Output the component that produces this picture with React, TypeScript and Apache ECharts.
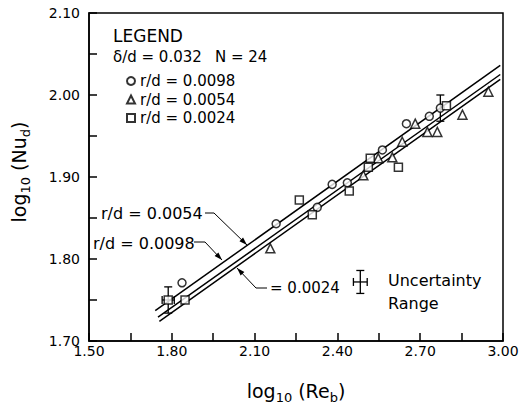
import React, { useEffect, useRef } from 'react';
import * as echarts from 'echarts';

// r/d = 0.0098 (circles)
const circleData: [number, number][] = [
  [1.837, 1.771], [2.178, 1.843], [2.327, 1.863], [2.381, 1.891], [2.436, 1.893],
  [2.563, 1.933], [2.650, 1.965], [2.733, 1.974], [2.773, 1.984],
];
// r/d = 0.0054 (triangles)
const triangleData: [number, number][] = [
  [2.157, 1.813], [2.494, 1.902], [2.548, 1.923], [2.599, 1.924], [2.635, 1.943],
  [2.682, 1.965], [2.726, 1.955], [2.762, 1.955], [2.853, 1.976], [2.947, 2.004],
];
// r/d = 0.0024 (squares)
const squareData: [number, number][] = [
  [1.787, 1.750], [1.848, 1.750], [2.262, 1.872], [2.309, 1.854], [2.443, 1.883],
  [2.512, 1.912], [2.519, 1.923], [2.621, 1.912], [2.795, 1.987],
];
// fitted lines (end points)
const fitTop: [number, number][] = [[1.740, 1.737], [2.990, 2.036]];
const fitMid: [number, number][] = [[1.750, 1.729], [2.990, 2.025]];
const fitLow: [number, number][] = [[1.755, 1.724], [2.990, 2.019]];
// uncertainty crosses: x, y, dx, dy
const errX = [1.787, 2.773, 2.483];
const errY = [1.750, 1.984, 1.772];
const errDx = [0.022, 0, 0.025];
const errDy = [0.016, 0.016, 0.014];

const seriesNames = ['r/d = 0.0098', 'r/d = 0.0054', 'r/d = 0.0024'];
const FONT = 'DejaVu Sans';

function arrowHead(p0: number[], p1: number[], len = 8, half = 2.6) {
  const dx = p1[0] - p0[0];
  const dy = p1[1] - p0[1];
  const d = Math.hypot(dx, dy);
  const ux = dx / d, uy = dy / d;
  const bx = p1[0] - ux * len, by = p1[1] - uy * len;
  return [[p1[0], p1[1]], [bx - uy * half, by + ux * half], [bx + uy * half, by - ux * half]];
}

function leader(points: number[][]) {
  const n = points.length;
  return [
    { type: 'polyline', shape: { points }, style: { stroke: '#000', lineWidth: 1, fill: null } },
    { type: 'polygon', shape: { points: arrowHead(points[n - 2], points[n - 1]) }, style: { fill: '#000' } },
  ];
}

export default function App() {
  const ref = useRef<HTMLDivElement>(null);
  useEffect(() => {
    const chart = echarts.init(ref.current!, null, { renderer: 'svg' });
    const symStyle = { color: '#fff', borderColor: '#000', borderWidth: 1.5 };
    const lineSeries = (data: [number, number][]) => ({
      type: 'line', data, symbol: 'none', lineStyle: { color: '#000', width: 1.5 }, silent: true, z: 1,
    });
    const textStyle = (text: string, size: number) => ({
      text, fill: '#000', font: `${size}px "${FONT}"`, verticalAlign: 'middle',
    });
    chart.setOption({
      animation: false,
      backgroundColor: '#fff',
      grid: { left: 89, right: 20, top: 13, bottom: 67, show: true, borderColor: '#000', borderWidth: 1.5 },
      legend: {
        orient: 'vertical', left: 126, top: 73.5, padding: 0, itemWidth: 8, itemHeight: 8,
        itemGap: 3.5, itemTextGap: 15, data: seriesNames,
        textStyle: { fontFamily: FONT, fontSize: 15, color: '#000', lineHeight: 15 },
      },
      xAxis: {
        type: 'value', min: 1.5, max: 3.0, interval: 0.15,
        axisLine: { lineStyle: { color: '#000', width: 1.5 } },
        axisTick: { inside: true, length: 8, lineStyle: { color: '#000', width: 1.5 } },
        splitLine: { show: false },
        axisLabel: {
          margin: 3, color: '#000', fontFamily: FONT, fontSize: 14,
          formatter: (v: number) => (Math.round(v * 100) % 30 === 0 ? v.toFixed(2) : ''),
        },
      },
      yAxis: {
        type: 'value', min: 1.7, max: 2.1, interval: 0.05,
        axisLine: { lineStyle: { color: '#000', width: 1.5 } },
        axisTick: { inside: true, length: 8, lineStyle: { color: '#000', width: 1.5 } },
        splitLine: { show: false },
        axisLabel: {
          margin: 9, color: '#000', fontFamily: FONT, fontSize: 14,
          formatter: (v: number) => (Math.round(v * 100) % 10 === 0 ? v.toFixed(2) : ''),
        },
      },
      series: [
        lineSeries(fitTop),
        lineSeries(fitMid),
        lineSeries(fitLow),
        {
          type: 'custom', z: 2, silent: true,
          data: errX.map((x, i) => [x, errY[i], errDx[i], errDy[i]]),
          renderItem: (_p: any, api: any) => {
            const x = api.value(0), y = api.value(1), dx = api.value(2), dy = api.value(3);
            const st = { stroke: '#000', lineWidth: 1.3 };
            const cap = 4;
            const ch: any[] = [];
            if (dy > 0) {
              const t = api.coord([x, y + dy]);
              const b = api.coord([x, y - dy]);
              ch.push({ type: 'line', shape: { x1: t[0], y1: t[1], x2: b[0], y2: b[1] }, style: st });
              ch.push({ type: 'line', shape: { x1: t[0] - cap, y1: t[1], x2: t[0] + cap, y2: t[1] }, style: st });
              ch.push({ type: 'line', shape: { x1: b[0] - cap, y1: b[1], x2: b[0] + cap, y2: b[1] }, style: st });
            }
            if (dx > 0) {
              const l = api.coord([x - dx, y]);
              const r = api.coord([x + dx, y]);
              ch.push({ type: 'line', shape: { x1: l[0], y1: l[1], x2: r[0], y2: r[1] }, style: st });
              ch.push({ type: 'line', shape: { x1: l[0], y1: l[1] - cap, x2: l[0], y2: l[1] + cap }, style: st });
              ch.push({ type: 'line', shape: { x1: r[0], y1: r[1] - cap, x2: r[0], y2: r[1] + cap }, style: st });
            }
            return { type: 'group', children: ch };
          },
        },
        { name: seriesNames[0], type: 'scatter', data: circleData, symbol: 'circle', symbolSize: 8, itemStyle: symStyle, z: 3 },
        { name: seriesNames[1], type: 'scatter', data: triangleData, symbol: 'triangle', symbolSize: 9, itemStyle: symStyle, z: 3 },
        { name: seriesNames[2], type: 'scatter', data: squareData, symbol: 'rect', symbolSize: 8, itemStyle: symStyle, z: 3 },
      ],
      graphic: [
        { type: 'text', left: 113, top: 27, style: { text: 'LEGEND', fill: '#000', font: `17px "${FONT}"` } },
        { type: 'text', x: 113, y: 57, style: textStyle('δ/d = 0.032', 15) },
        { type: 'text', x: 215, y: 57, style: textStyle('N = 24', 15) },
        { type: 'text', x: 101, y: 213, style: textStyle('r/d = 0.0054', 16) },
        { type: 'text', x: 93, y: 243, style: textStyle('r/d = 0.0098', 16) },
        { type: 'text', x: 270, y: 288, style: textStyle('= 0.0024', 15) },
        { type: 'text', x: 388, y: 280, style: textStyle('Uncertainty', 16) },
        { type: 'text', x: 388, y: 303, style: textStyle('Range', 16) },
        ...leader([[205, 213], [214, 213], [247, 245]]),
        ...leader([[194, 242], [205, 242], [222, 260]]),
        ...leader([[267, 288], [256, 288], [237, 268]]),
        {
          type: 'text', x: 296, y: 391,
          style: {
            text: 'log{s|10} (Re{s|b})', fill: '#000', font: `19px "${FONT}"`,
            align: 'center', verticalAlign: 'middle',
            rich: { s: { fontFamily: FONT, fontSize: 13, padding: [12, 0, 0, 0] } },
          },
        },
        {
          type: 'text', x: 19, y: 172, rotation: Math.PI / 2,
          style: {
            text: 'log{s|10} (Nu{s|d})', fill: '#000', font: `19px "${FONT}"`,
            align: 'center', verticalAlign: 'middle',
            rich: { s: { fontFamily: FONT, fontSize: 13, padding: [12, 0, 0, 0] } },
          },
        },
      ],
    });
    return () => chart.dispose();
  }, []);
  return <div ref={ref} style={{ width: 523, height: 408, position: 'absolute', left: 0, top: 0 }} />;
}
